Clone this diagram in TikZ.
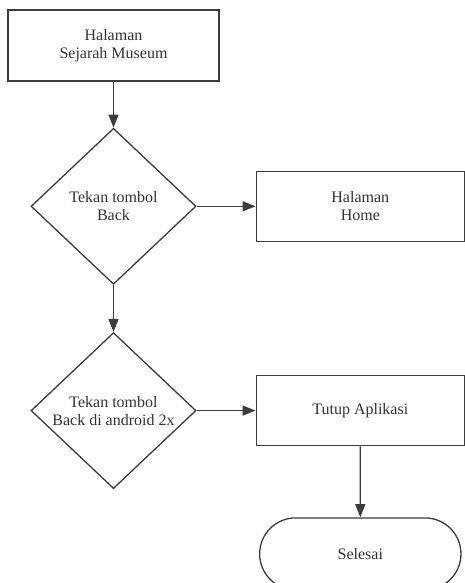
\documentclass[tikz,border=0pt]{standalone}
\usepackage{fontspec}
\setmainfont{Liberation Serif}
\usetikzlibrary{positioning,shapes.geometric,shapes.misc,arrows.meta}
\definecolor{linegray}{HTML}{3C3C3C}
\definecolor{textgray}{HTML}{333333}
\begin{document}
\begin{tikzpicture}[x=1pt, y=1pt,
  font=\fontsize{16}{18}\selectfont, text=textgray,
  process/.style={rectangle, draw=linegray, line width=1.3pt, minimum width=208pt, minimum height=70pt, text centered, align=center},
  decision/.style={diamond, draw=linegray, line width=1.3pt, minimum width=165pt, minimum height=156pt, inner sep=0pt, text centered, align=center},
  terminal/.style={rounded rectangle, draw=linegray, line width=1.3pt, minimum width=208pt, minimum height=72pt, text centered},
  flow/.style={-{Triangle[length=13pt, width=10pt]}, draw=linegray, line width=1.3pt}]
\useasboundingbox (0,0) rectangle (464,-583);

\node (sejarah) [process, minimum width=211pt, minimum height=71pt] at (113.5,-45.5) {Halaman\\Sejarah Museum};
\node (back) [decision, below=46pt of sejarah] {Tekan tombol\\Back};
\node (home) [process, right=59pt of back] {Halaman\\Home};
\node (backtwice) [decision, below=47pt of back] {Tekan tombol\\Back di android 2x};
\node (tutup) [process, right=59pt of backtwice] {Tutup Aplikasi};
\node (selesai) [terminal, below=71pt of tutup] {Selesai};

\draw[flow] (sejarah) -- (back);
\draw[flow] (back) -- (home);
\draw[flow] (back) -- (backtwice);
\draw[flow] (backtwice) -- (tutup);
\draw[flow] (tutup) -- (selesai);

\end{tikzpicture}
\end{document}
